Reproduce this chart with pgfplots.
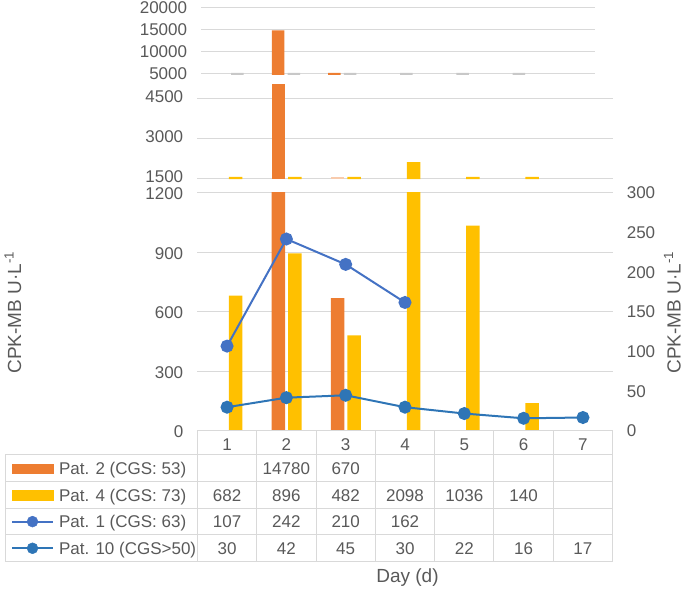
\documentclass[border=0pt]{standalone}
\usepackage{pgfplots}
\pgfplotsset{compat=1.18}
\usepackage{pgfplotstable}
\usepackage{fontspec}
\setmainfont{Liberation Sans}
\definecolor{orangeC}{HTML}{ED7D31}
\definecolor{yellowC}{HTML}{FFC000}
\definecolor{peachC}{HTML}{F8CBAD}
\definecolor{stubgray}{HTML}{C8C8C8}
\definecolor{blueA}{HTML}{4472C4}
\definecolor{blueB}{HTML}{2E75B6}
\definecolor{gridC}{HTML}{D9D9D9}
\definecolor{txtC}{HTML}{595959}

% Pat. 2 (CGS: 53)
\pgfplotstableread{
day val
2 14780
3 670
}\ptwo
% Pat. 4 (CGS: 73)
\pgfplotstableread{
day val
1 682
2 896
3 482
4 2098
5 1036
6 140
}\pfour
% Pat. 1 (CGS: 63)
\pgfplotstableread{
day val
1 107
2 242
3 210
4 162
}\pone
% Pat. 10 (CGS>50)
\pgfplotstableread{
day val
1 30
2 42
3 45
4 30
5 22
6 16
7 17
}\pten

\newcommand{\tfont}{\fontsize{17bp}{20bp}\selectfont}
\newcommand{\lfont}{\fontsize{19bp}{22bp}\selectfont}

\pgfplotsset{
  base/.style={
    scale only axis, anchor=south west,
    xmin=0.5, xmax=7.5, xtick=\empty,
    axis line style={draw=none},
    major tick length=0pt,
    scaled y ticks=false,
    tick label style={font=\tfont, text=txtC},
    /pgf/number format/assume math mode=true,
    ymajorgrids, grid style={draw=gridC, line width=1bp},
    yticklabel style={inner sep=0pt, xshift=-14bp},
    ybar,
  },
}

\begin{document}
\begin{tikzpicture}[x=1bp,y=1bp]
\useasboundingbox (0,0) rectangle (685,591);

% ---------- top segment 5000..20000 ----------
\begin{axis}[base, at={(201.3bp,516bp)}, width=394.1bp, height=67.7bp,
  ymin=4775, ymax=20000, ytick={5000,10000,15000,20000},
  yticklabels={5000,10000,15000,20000}, bar width=12.5bp]
\addplot[fill=orangeC, draw=none, bar shift=-7.7bp, y filter/.expression={max(y,5225)}] table[x=day,y=val]{\ptwo};
\addplot[fill=stubgray, draw=none, bar shift=8bp, y filter/.expression={max(y,5225)}] table[x=day,y=val]{\pfour};
\end{axis}

% ---------- middle segment 1500..5000 ----------
\begin{axis}[base, at={(197.4bp,411.9bp)}, width=415.2bp, height=94.4bp,
  ymin=1460, ymax=5000, ytick={1500,3000,4500},
  yticklabels={1500,3000,4500}, bar width=13.5bp,
  yticklabel style={yshift=1bp}]
\addplot[fill=orangeC, draw=none, bar shift=-8bp, restrict x to domain=1.5:2.5, y filter/.expression={max(y,1540)}] table[x=day,y=val]{\ptwo};
\addplot[fill=peachC, draw=none, bar shift=-8bp, restrict x to domain=2.5:3.5, y filter/.expression={max(y,1540)}] table[x=day,y=val]{\ptwo};
\addplot[fill=yellowC, draw=none, bar shift=8.5bp, y filter/.expression={max(y,1540)}] table[x=day,y=val]{\pfour};
\end{axis}

% ---------- bottom segment 0..1200 ----------
\begin{axis}[base, at={(197.4bp,160bp)}, width=415.2bp, height=238bp,
  ymin=0, ymax=1200, ytick={0,300,600,900,1200},
  yticklabels={0,300,600,900,1200}, bar width=13.5bp,
  yticklabel style={yshift=-1bp}]
\addplot[fill=orangeC, draw=none, bar shift=-8bp] table[x=day,y=val]{\ptwo};
\addplot[fill=yellowC, draw=none, bar shift=8.5bp] table[x=day,y=val]{\pfour};
\end{axis}

% ---------- secondary axis 0..300 with lines ----------
\begin{axis}[scale only axis, anchor=south west, at={(197.4bp,160bp)},
  width=415.2bp, height=238bp,
  xmin=0.5, xmax=7.5, ymin=0, ymax=300,
  axis y line*=right, axis x line=none,
  axis line style={draw=none}, major tick length=0pt,
  scaled y ticks=false,
  ytick={0,50,100,150,200,250,300},
  yticklabels={0,50,100,150,200,250,300},
  tick label style={font=\tfont, text=txtC},
  yticklabel style={inner sep=0pt, xshift=14bp},
  clip=false,
  legend cell align=left,
  legend style={at={(-0.44894,-0.10084)}, anchor=north west,
    draw=none, fill=none, inner sep=0pt, outer sep=0pt,
    row sep=0pt, column sep=5bp, font=\tfont, text=txtC,
    nodes={inner sep=0pt, text height=12.4bp, text depth=0bp, minimum height=26.65bp}},
]
\addlegendimage{legend image code/.code={\fill[orangeC] (0bp,-4.5bp) rectangle (41bp,4.5bp);}}
\addlegendentry{Pat. 2 (CGS: 53)}
\addlegendimage{legend image code/.code={\fill[yellowC] (0bp,-5bp) rectangle (41bp,5bp);}}
\addlegendentry{Pat. 4 (CGS: 73)}
\addlegendimage{legend image code/.code={\draw[blueA, line width=2bp] (0bp,0bp) -- (41bp,0bp); \fill[blueA] (20.5bp,0bp) circle (5.5bp);}}
\addlegendentry{Pat. 1 (CGS: 63)}
\addlegendimage{legend image code/.code={\draw[blueB, line width=2bp] (0bp,0bp) -- (41bp,0bp); \fill[blueB] (20.5bp,0bp) circle (5.5bp);}}
\addlegendentry{Pat. 10 (CGS>50)}
\addplot[blueA, line width=2bp, mark=*, mark size=5.5bp, mark options={fill=blueA, draw=none}, forget plot] table[x=day,y=val]{\pone};
\addplot[blueB, line width=2bp, mark=*, mark size=5.5bp, mark options={fill=blueB, draw=none}, forget plot] table[x=day,y=val]{\pten};
\end{axis}

% ---------- data table ----------
\begin{scope}[draw=gridC, line width=1bp]
\draw (197.4,160) -- (612.6,160);
\foreach \yy in {136,109.3,82.7,56,29.3} \draw (5,\yy) -- (612.6,\yy);
\draw (5,136) -- (5,29.3);
\foreach \k in {0,...,7} \draw ({197.4+59.314*\k},160) -- ({197.4+59.314*\k},29.3);
\end{scope}
\tikzset{cell/.style={font=\tfont, text=txtC, inner sep=0pt, text height=12.4bp, text depth=0bp, anchor=center}}
\foreach \d in {1,...,7} \node[cell] at ({197.4+59.314*(\d-0.5)},146.5) {\d};
% Pat. 2 row
\node[cell] at ({197.4+59.314*1.5},122.7) {14780};
\node[cell] at ({197.4+59.314*2.5},122.7) {670};
% Pat. 4 row
\foreach \d/\v in {1/682,2/896,3/482,4/2098,5/1036,6/140}
  \node[cell] at ({197.4+59.314*(\d-0.5)},96) {\v};
% Pat. 1 row
\foreach \d/\v in {1/107,2/242,3/210,4/162}
  \node[cell] at ({197.4+59.314*(\d-0.5)},69.3) {\v};
% Pat. 10 row
\foreach \d/\v in {1/30,2/42,3/45,4/30,5/22,6/16,7/17}
  \node[cell] at ({197.4+59.314*(\d-0.5)},42.7) {\v};

% ---------- axis titles ----------
\node[rotate=90, font=\lfont, text=txtC] at (13,278.5) {CPK-MB U·L\textsuperscript{-1}};
\node[rotate=90, font=\lfont, text=txtC] at (672.5,278.5) {CPK-MB U·L\textsuperscript{-1}};
\node[font=\lfont, text=txtC] at (407.5,13) {Day (d)};
\end{tikzpicture}
\end{document}
